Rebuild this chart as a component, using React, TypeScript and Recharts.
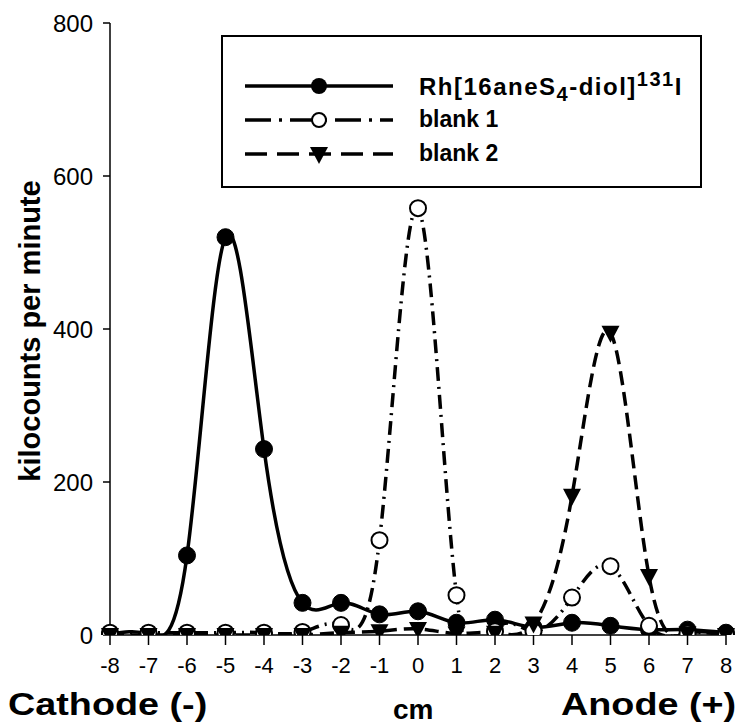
import { LineChart, Line, XAxis, YAxis } from "recharts";

const positions = [-8, -7, -6, -5, -4, -3, -2, -1, 0, 1, 2, 3, 4, 5, 6, 7, 8];
const rhValues = [1, 1, 104, 520, 243, 42, 42, 27, 31, 16, 20, 10, 16, 12, 7, 7, 3];
const blank1Values = [3, 3, 3, 3, 3, 4, 13, 124, 558, 52, 5, 5, 49, 90, 12, 2, 0];
const blank2Values = [0, 0, 0, 0, 0, 0, 3, 5, 8, 2, 3, 15, 182, 395, 77, 2, 0];
const yTicks = [0, 200, 400, 600, 800];

const data = positions.map((cm, i) => ({
  cm,
  rh: rhValues[i],
  blank1: blank1Values[i],
  blank2: blank2Values[i],
}));

const font = '"Liberation Sans", Arial, sans-serif';

const TriangleDot = (props: any) => {
  const { cx, cy, index } = props;
  if (cx == null || cy == null) return null;
  return (
    <path
      key={`tri-${index}`}
      d={`M${cx - 9},${cy - 7} L${cx + 9},${cy - 7} L${cx},${cy + 10} Z`}
      fill="#000"
    />
  );
};

function LegendSample({ kind }: { kind: "rh" | "b1" | "b2" }) {
  const dash = kind === "rh" ? undefined : kind === "b1" ? "26 8 3 8" : "22 10";
  return (
    <svg width={152} height={22} style={{ display: "block" }}>
      <line x1={2} y1={11} x2={150} y2={11} stroke="#000" strokeWidth={3.5} strokeDasharray={dash} />
      {kind === "rh" && <circle cx={76} cy={11} r={8} fill="#000" />}
      {kind === "b1" && <circle cx={76} cy={11} r={7} fill="#fff" stroke="#000" strokeWidth={2} />}
      {kind === "b2" && <path d="M67,4 L85,4 L76,21 Z" fill="#000" />}
    </svg>
  );
}

export default function App() {
  const legendRow = { position: "absolute" as const, left: 20, display: "flex", alignItems: "center", gap: 24 };
  const legendText = { fontFamily: font, fontWeight: 700, fontSize: 23, lineHeight: 1, color: "#000" };
  const bottomText = {
    position: "absolute" as const,
    fontFamily: font,
    fontWeight: 700,
    lineHeight: 1,
    whiteSpace: "nowrap" as const,
    transformOrigin: "left top",
  };

  return (
    <div style={{ position: "absolute", left: 0, top: 0, width: 739, height: 726, background: "#fff" }}>
      <LineChart
        width={739}
        height={726}
        data={data}
        margin={{ top: 23, right: 13, bottom: 41, left: 0 }}
      >
        <XAxis
          dataKey="cm"
          type="number"
          domain={[-8, 8]}
          ticks={positions}
          interval={0}
          height={50}
          tickSize={10}
          tickMargin={12}
          axisLine={{ stroke: "#000", strokeWidth: 1.5 }}
          tickLine={{ stroke: "#000", strokeWidth: 1.5 }}
          tick={{ fill: "#000", fontSize: 22, fontFamily: font }}
        />
        <XAxis xAxisId="top" orientation="top" dataKey="cm" type="number" domain={[-8, 8]} height={0} tick={false} tickLine={false} axisLine={{ stroke: "#000", strokeWidth: 1.5 }} />
        <YAxis
          type="number"
          domain={[0, 800]}
          ticks={yTicks}
          width={110}
          tickSize={7}
          tickMargin={10}
          allowDataOverflow
          axisLine={{ stroke: "#000", strokeWidth: 1.5 }}
          tickLine={{ stroke: "#000", strokeWidth: 1.5 }}
          tick={{ fill: "#000", fontSize: 24, fontFamily: font }}
        />
        <YAxis yAxisId="right" orientation="right" type="number" domain={[0, 800]} width={0} tick={false} tickLine={false} axisLine={{ stroke: "#000", strokeWidth: 1.5 }} />
        <Line
          type="natural"
          dataKey="rh"
          stroke="#000"
          strokeWidth={3.5}
          dot={{ r: 8.5, fill: "#000", stroke: "#000", strokeWidth: 1 }}
          isAnimationActive={false}
        />
        <Line
          type="natural"
          dataKey="blank1"
          stroke="#000"
          strokeWidth={3.5}
          strokeDasharray="14 6 2 6"
          dot={{ r: 8, fill: "#fff", stroke: "#000", strokeWidth: 2, strokeDasharray: "" }}
          isAnimationActive={false}
        />
        <Line
          type="natural"
          dataKey="blank2"
          stroke="#000"
          strokeWidth={3.5}
          strokeDasharray="14 7"
          dot={TriangleDot}
          isAnimationActive={false}
        />
      </LineChart>

      {/* legend box */}
      <div
        style={{
          position: "absolute",
          left: 221,
          top: 35,
          width: 477,
          height: 149,
          border: "2px solid #000",
          background: "#fff",
        }}
      >
        <div style={{ ...legendRow, top: 32 }}>
          <LegendSample kind="rh" />
          <span style={{ ...legendText, fontSize: 24, letterSpacing: 1.5 }}>
            Rh[16aneS<sub style={{ fontSize: 20 }}>4</sub>-diol]<sup style={{ fontSize: 20 }}>131</sup>I
          </span>
        </div>
        <div style={{ ...legendRow, top: 71 }}>
          <LegendSample kind="b1" />
          <span style={legendText}>blank 1</span>
        </div>
        <div style={{ ...legendRow, top: 105 }}>
          <LegendSample kind="b2" />
          <span style={legendText}>blank 2</span>
        </div>
      </div>

      <div
        style={{
          ...bottomText,
          left: 30,
          top: 331,
          fontSize: 29,
          transformOrigin: "center",
          transform: "translate(-50%, -50%) rotate(-90deg)",
        }}
      >
        kilocounts per minute
      </div>
      <div style={{ ...bottomText, left: 8, top: 688, fontSize: 32, transform: "scaleX(1.18)" }}>Cathode (-)</div>
      <div style={{ ...bottomText, left: 393, top: 696, fontSize: 28 }}>cm</div>
      <div style={{ ...bottomText, left: 561, top: 688, fontSize: 32, transform: "scaleX(1.18)" }}>Anode (+)</div>
    </div>
  );
}
